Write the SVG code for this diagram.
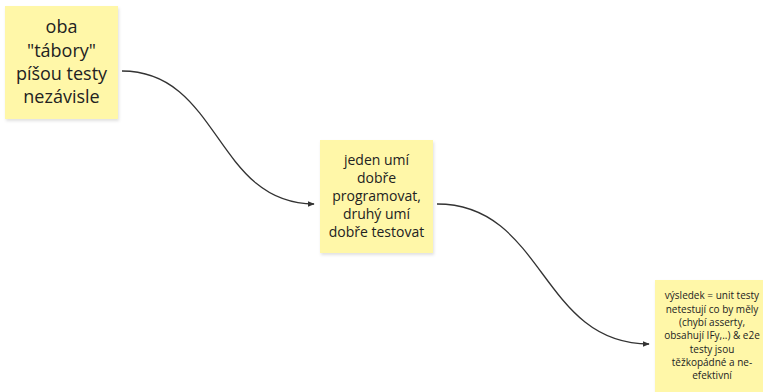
<svg xmlns="http://www.w3.org/2000/svg" width="763" height="392" viewBox="0 0 763 392">
<defs>
<filter id="sh" x="-10%" y="-10%" width="130%" height="130%">
<feDropShadow dx="1" dy="2" stdDeviation="1.5" flood-color="#000" flood-opacity="0.12"/>
</filter>
<marker id="arr" viewBox="0 0 10 10" refX="9" refY="5" markerWidth="7" markerHeight="7" markerUnits="userSpaceOnUse" orient="auto">
<path d="M0,1 L10,5 L0,9 Z" fill="#333"/>
</marker>
<style>
.note{fill:#fff7a8;filter:url(#sh)}
text{font-family:"Open Sans","Noto Sans",sans-serif;fill:#222;text-anchor:middle}
.conn{fill:none;stroke:#333;stroke-width:1.3;marker-end:url(#arr)}
</style>
</defs>
<rect width="763" height="392" fill="#fff"/>
<g id="connectors">
<path class="conn" d="M122,71 C220,71 215,204 314,204"/>
<path class="conn" d="M437,204 C545,204 540,344 649,344"/>
</g>
<g id="n1">
<rect class="note" x="5" y="6" width="113" height="113"/>
<text font-size="18"><tspan x="61.5" y="33">oba</tspan><tspan x="61.5" y="57">"tábory"</tspan><tspan x="61.5" y="80">píšou testy</tspan><tspan x="61.5" y="103">nezávisle</tspan></text>
</g>
<g id="n2">
<rect class="note" x="320" y="140" width="113" height="113"/>
<text font-size="14"><tspan x="376.5" y="165">jeden umí</tspan><tspan x="376.5" y="183">dobře</tspan><tspan x="376.5" y="201">programovat,</tspan><tspan x="376.5" y="219">druhý umí</tspan><tspan x="376.5" y="237">dobře testovat</tspan></text>
</g>
<g id="n3">
<rect class="note" x="655" y="280" width="113" height="113"/>
<text font-size="10"><tspan x="712" y="299">výsledek = unit testy</tspan><tspan x="712" y="312.5">netestují co by měly</tspan><tspan x="712" y="326">(chybí asserty,</tspan><tspan x="712" y="339">obsahují IFy,..) &amp; e2e</tspan><tspan x="712" y="352.5">testy jsou</tspan><tspan x="712" y="366">těžkopádné a ne-</tspan><tspan x="712" y="379">efektivní</tspan></text>
</g>
</svg>
